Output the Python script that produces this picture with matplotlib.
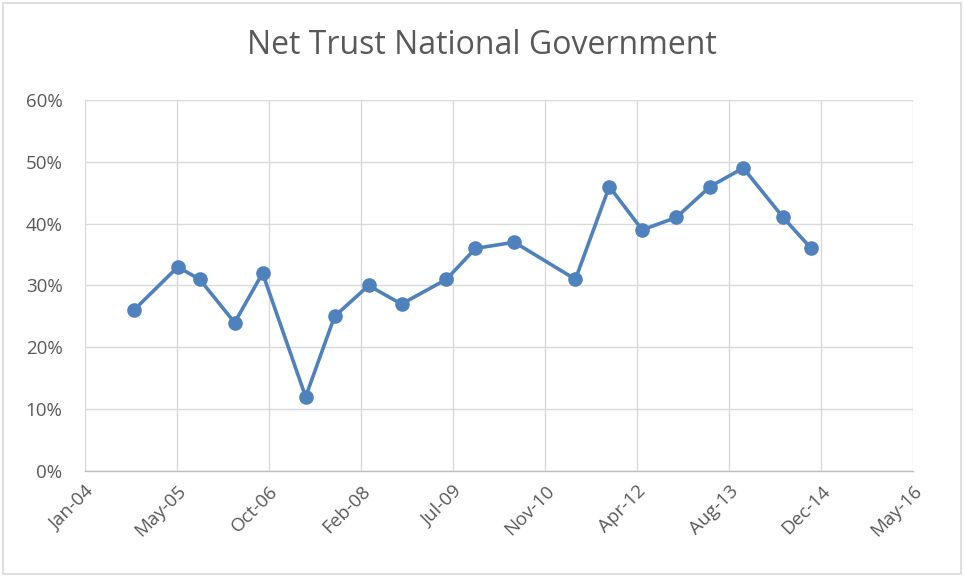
import numpy as np
import pandas as pd
import matplotlib
matplotlib.use("Agg")
import matplotlib.pyplot as plt
import matplotlib.dates as mdates
from matplotlib.patches import Rectangle
from matplotlib.ticker import FuncFormatter

# survey dates and net trust share (%)
survey_dates = [
    "2004-10-07", "2005-06-03", "2005-09-30", "2006-04-08", "2006-09-07",
    "2007-04-29", "2007-10-03", "2008-04-05", "2008-10-01", "2009-06-02",
    "2009-11-07", "2010-06-06", "2011-05-04", "2011-11-04", "2012-05-01",
    "2012-11-02", "2013-05-05", "2013-11-01", "2014-06-06", "2014-11-05",
]
net_trust = [26, 33, 31, 24, 32, 12, 25, 30, 27, 31,
             36, 37, 31, 46, 39, 41, 46, 49, 41, 36]

axis_start = pd.Timestamp("2004-01-15")
tick_step_days = 500
n_ticks = 10

dates = pd.to_datetime(survey_dates)
ticks = [axis_start + pd.Timedelta(days=tick_step_days * i) for i in range(n_ticks)]

plt.rcParams["font.family"] = ["Open Sans", "DejaVu Sans"]

fig = plt.figure(figsize=(9.64, 5.77), dpi=100)
ax = fig.add_axes([0.088, 0.1837, 0.859, 0.643])

ax.plot(dates, net_trust, color="#4f81bd", lw=2.6, marker="o",
        markersize=9.5, zorder=3)

ax.set_xlim(ticks[0], ticks[-1])
ax.set_ylim(0, 60)
ax.set_xticks(ticks)
ax.xaxis.set_major_formatter(mdates.DateFormatter("%b-%y"))
ax.set_yticks(np.arange(0, 61, 10))
ax.yaxis.set_major_formatter(FuncFormatter(lambda v, _: f"{v:.0f}%"))

ax.grid(True, color="#d9d9d9", lw=1)
ax.set_axisbelow(True)
for side in ["top", "right", "left"]:
    ax.spines[side].set_visible(False)
ax.spines["bottom"].set_color("#bfbfbf")
ax.spines["bottom"].set_linewidth(1)

ax.tick_params(axis="both", length=0, colors="#595959", labelsize=13.5)
ax.tick_params(axis="y", pad=16)
ax.tick_params(axis="x", pad=8)
for lbl in ax.get_xticklabels():
    lbl.set_rotation(45)
    lbl.set_ha("right")
    lbl.set_rotation_mode("anchor")

fig.text(0.5, 0.922, "Net Trust National Government", ha="center", va="center",
         fontsize=23, color="#595959")

# outer chart border
fig.patches.append(Rectangle((0.003, 0.005), 0.994, 0.99, transform=fig.transFigure,
                             fill=False, edgecolor="#d9d9d9", lw=1.2))

fig.savefig("out.png", dpi=100)
